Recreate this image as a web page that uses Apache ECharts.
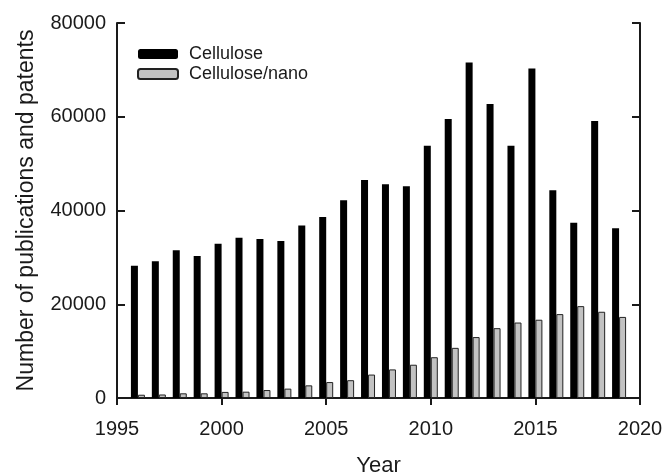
<!DOCTYPE html>
<html>
<head>
<meta charset="utf-8">
<script src="https://cdn.jsdelivr.net/npm/echarts@6/dist/echarts.min.js"></script>
<style>
html,body{margin:0;padding:0;background:#fff;}
#chart{width:664px;height:476px;}
</style>
</head>
<body>
<div id="chart"></div>
<script>
var years = [1996,1997,1998,1999,2000,2001,2002,2003,2004,2005,2006,2007,2008,2009,2010,2011,2012,2013,2014,2015,2016,2017,2018,2019];
var cellulose = [28200,29200,31500,30300,32900,34200,33900,33500,36800,38600,42200,46500,45600,45200,53800,59500,71600,62700,53800,70300,44300,37400,59100,36200];
var celluloseNano = [700,750,1000,1000,1300,1350,1700,2000,2700,3400,3800,5000,6100,7100,8700,10700,13000,14900,16100,16700,17900,19600,18400,17300];
var xTicks = [1995,2000,2005,2010,2015,2020];
var yTicks = [0,20000,40000,60000,80000];

var font = 'Liberation Sans, Arial, sans-serif';
var lineC = '#1a1a1a';
var txtC = '#1a1a1a';
var chart = echarts.init(document.getElementById('chart'));
function pairs(vals){ return years.map(function(y,i){ return [y, vals[i]]; }); }
function plain(v){ return String(v); }

chart.setOption({
  animation:false,
  backgroundColor:'#fff',
  textStyle:{fontFamily:font},
  grid:{left:117,right:24,top:23,bottom:78,containLabel:false,outerBoundsMode:'none'},
  legend:{
    left:132, top:40, orient:'vertical', itemWidth:40, itemHeight:10, itemGap:2,
    textStyle:{fontFamily:font,fontSize:18,lineHeight:18,color:txtC,padding:[0,0,0,6]},
    data:['Cellulose','Cellulose/nano']
  },
  xAxis:[{
    type:'value', min:xTicks[0], max:xTicks[xTicks.length-1], interval:5,
    name:'Year', nameLocation:'middle', nameGap:57,
    nameTextStyle:{fontFamily:font,fontSize:22,color:txtC},
    axisLine:{show:true,lineStyle:{color:lineC,width:2}},
    axisTick:{show:true,inside:false,length:7,lineStyle:{color:lineC,width:2}},
    axisLabel:{fontFamily:font,fontSize:20,color:txtC,margin:21,formatter:plain},
    splitLine:{show:false}
  },{
    type:'value', position:'top', min:xTicks[0], max:xTicks[xTicks.length-1], interval:5,
    axisLine:{show:true,lineStyle:{color:lineC,width:2}},
    axisTick:{show:true,inside:true,length:7,lineStyle:{color:lineC,width:2}},
    axisLabel:{show:false}, splitLine:{show:false}
  }],
  yAxis:[{
    type:'value', min:yTicks[0], max:yTicks[yTicks.length-1], interval:20000,
    name:'Number of publications and patents', nameLocation:'middle', nameGap:79,
    nameTextStyle:{fontFamily:font,fontSize:23,color:txtC},
    axisLine:{show:true,lineStyle:{color:lineC,width:2}},
    axisTick:{show:true,inside:true,length:8,lineStyle:{color:lineC,width:2}},
    axisLabel:{fontFamily:font,fontSize:20,color:txtC,margin:11,formatter:plain},
    splitLine:{show:false}
  },{
    type:'value', position:'right', min:yTicks[0], max:yTicks[yTicks.length-1], interval:20000,
    axisLine:{show:true,lineStyle:{color:lineC,width:2}},
    axisTick:{show:true,inside:true,length:8,lineStyle:{color:lineC,width:2}},
    axisLabel:{show:false}, splitLine:{show:false}
  }],
  series:[{
    name:'Cellulose', type:'bar', xAxisIndex:0, yAxisIndex:0,
    barWidth:7, barGap:'0%',
    itemStyle:{color:'#000',borderColor:'#000',borderWidth:0},
    data:pairs(cellulose)
  },{
    name:'Cellulose/nano', type:'bar', xAxisIndex:0, yAxisIndex:0,
    barWidth:7, barGap:'0%',
    itemStyle:{color:'#c2c2c2',borderColor:'#222',borderWidth:1},
    data:pairs(celluloseNano)
  }]
});
</script>
</body>
</html>
